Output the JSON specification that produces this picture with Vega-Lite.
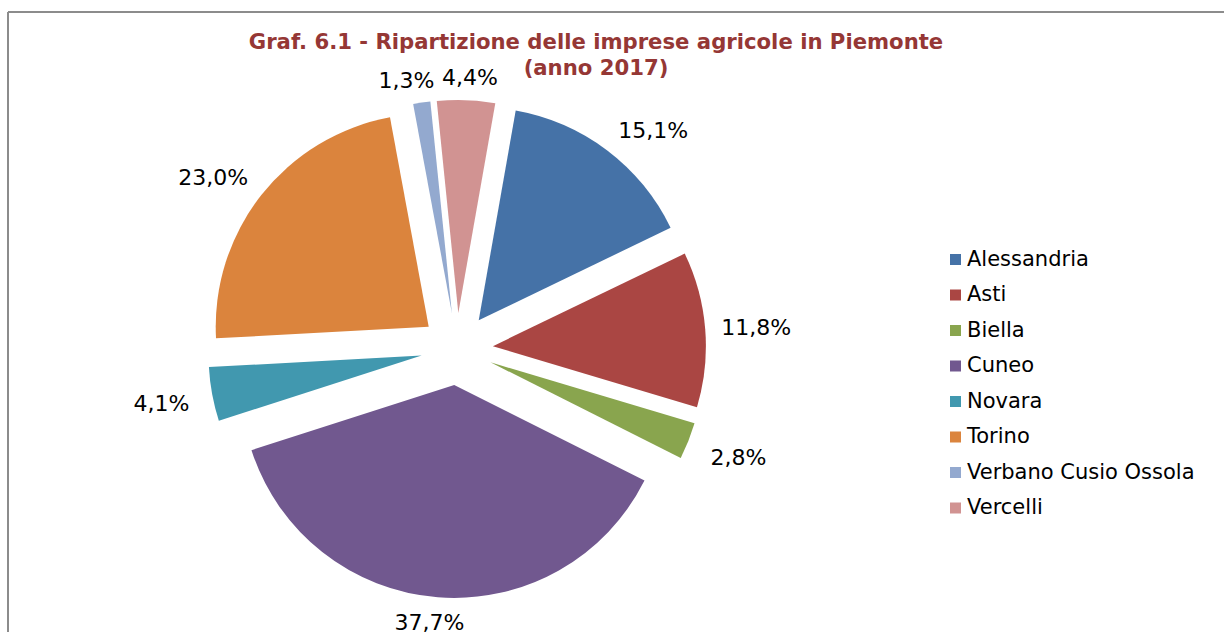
{
  "$schema": "https://vega.github.io/schema/vega-lite/v6.json",
  "width": 1216,
  "height": 620,
  "autosize": {"type": "none"},
  "padding": {"left": 8, "top": 12, "right": 0, "bottom": 0},
  "background": "white",
  "config": {
    "font": "DejaVu Sans",
    "locale": {"number": {"decimal": ",", "thousands": ".", "grouping": [3], "currency": ["", " €"]}},
    "view": {"stroke": "#8c8c8c", "strokeWidth": 2, "strokeDash": [1216, 1836, 620, 0]}
  },
  "title": {
    "text": ["Graf. 6.1 - Ripartizione delle imprese agricole in Piemonte", "(anno 2017)"],
    "font": "DejaVu Sans",
    "fontSize": 21.2,
    "fontWeight": "bold",
    "color": "#953735",
    "anchor": "middle",
    "frame": "group",
    "offset": 0,
    "baseline": "top",
    "dx": -20,
    "dy": 67,
    "lineHeight": 26
  },
  "data": {
    "values": [
      {"name": "Alessandria", "share": 0.151},
      {"name": "Asti", "share": 0.118},
      {"name": "Biella", "share": 0.028},
      {"name": "Cuneo", "share": 0.377},
      {"name": "Novara", "share": 0.041},
      {"name": "Torino", "share": 0.230},
      {"name": "Verbano Cusio Ossola", "share": 0.013},
      {"name": "Vercelli", "share": 0.044}
    ]
  },
  "transform": [
    {"stack": "share", "groupby": [], "sort": [{"field": "name", "order": "ascending"}], "as": ["p0", "p1"]}
  ],
  "encoding": {
    "x": {"datum": 0, "type": "quantitative", "scale": {"domain": [-449, 767], "nice": false, "zero": false}, "axis": null},
    "y": {"datum": 0, "type": "quantitative", "scale": {"domain": [-283, 337], "nice": false, "zero": false}, "axis": null}
  },
  "layer": [
    {
      "mark": {
        "type": "arc",
        "outerRadius": 213,
        "xOffset": {"expr": "36*sin(PI*(datum.p0+datum.p1)/1.002+0.17453)"},
        "yOffset": {"expr": "-36*cos(PI*(datum.p0+datum.p1)/1.002+0.17453)"}
      },
      "encoding": {
        "theta": {"field": "p0", "type": "quantitative", "scale": {"domain": [0, 1.002], "range": [0.17453, 6.45772]}},
        "theta2": {"field": "p1"},
        "color": {
          "field": "name",
          "type": "nominal",
          "scale": {
            "domain": ["Alessandria", "Asti", "Biella", "Cuneo", "Novara", "Torino", "Verbano Cusio Ossola", "Vercelli"],
            "range": ["#4572A7", "#AA4643", "#89A54E", "#71588F", "#4198AF", "#DB843D", "#93A9CF", "#D19392"]
          },
          "legend": {
            "title": null,
            "orient": "none",
            "legendX": 937,
            "legendY": 237,
            "padding": 0,
            "symbolType": "square",
            "symbolSize": 121,
            "symbolStrokeWidth": 0,
            "labelFont": "DejaVu Sans",
            "labelFontSize": 21,
            "labelColor": "black",
            "labelOffset": 1,
            "labelLimit": 0,
            "rowPadding": 13.5
          }
        }
      }
    },
    {
      "mark": {
        "type": "text",
        "font": "DejaVu Sans",
        "fontSize": 22,
        "color": "black",
        "align": "center",
        "baseline": "middle",
        "dx": {"expr": "262*sin(PI*(datum.p0+datum.p1)/1.002+0.17453)+38*clamp(2.5*sin(PI*(datum.p0+datum.p1)/1.002+0.17453),-1,1)"},
        "dy": {"expr": "2-262*cos(PI*(datum.p0+datum.p1)/1.002+0.17453)-11*clamp(2.5*cos(PI*(datum.p0+datum.p1)/1.002+0.17453),-1,1)"}
      },
      "encoding": {
        "text": {"field": "share", "type": "quantitative", "format": ".1%"}
      }
    }
  ]
}
